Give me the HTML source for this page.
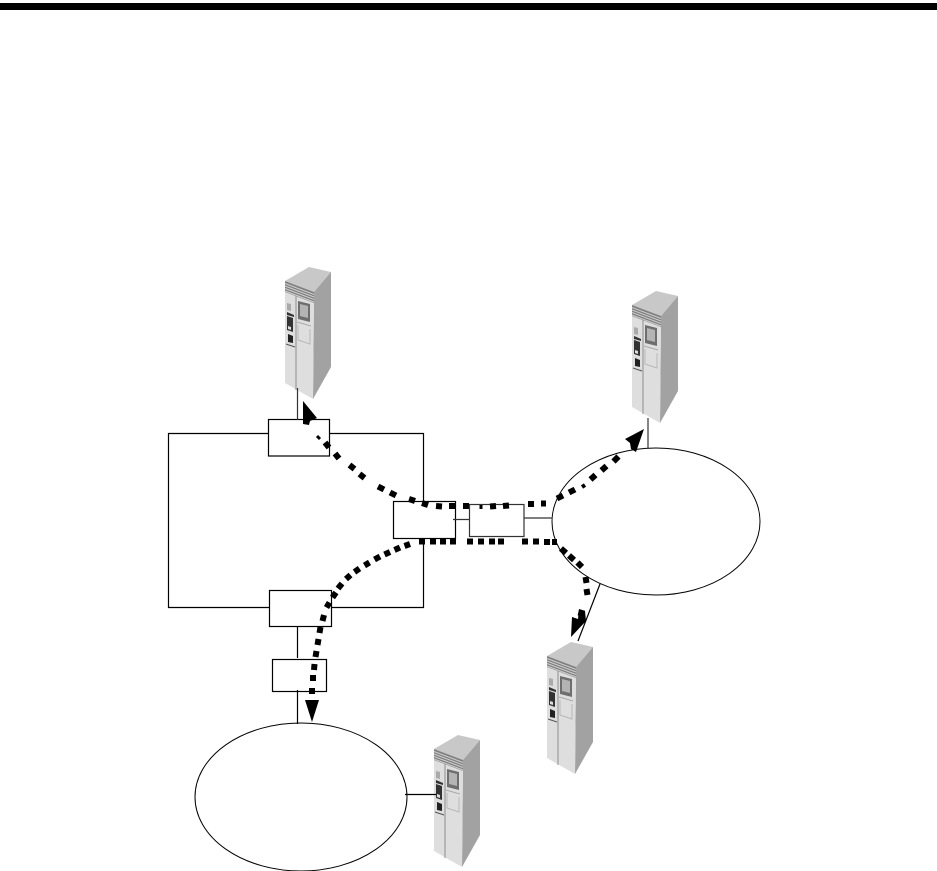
<!DOCTYPE html>
<html><head><meta charset="utf-8"><style>
html,body{margin:0;padding:0;background:#fff}
svg{display:block}
</style></head><body>
<svg width="937" height="871" viewBox="0 0 937 871" xmlns="http://www.w3.org/2000/svg">
<defs>
<g id="srv">
 <polygon points="285,281 309,267 331,272 314,292" fill="#c8c8c8"/>
 <polygon points="314,292 331,272 331,367 313,399" fill="#a2a2a2"/>
 <polygon points="285,281 314,292 313,399 285,383" fill="#dedede"/>
 <polygon points="285,281 314,292 314,303 285,292" fill="#808080"/>
 <path d="M285,283.5 L314,294.5 M285,286 L314,297 M285,288.5 L314,299.5 M285,291 L314,302" stroke="#cfcfcf" stroke-width="1"/>
 <line x1="296" y1="296" x2="296" y2="390" stroke="#8e8e8e" stroke-width="1"/>
 <polygon points="298,301 310,304 310,322 298,319" fill="#6e6e6e"/>
 <polygon points="300,304 308,306 308,318 300,316" fill="#b4b4b4"/>
 <polygon points="287,303 291,304 291,311 287,310" fill="#aaa"/>
 <polygon points="287,312 294,315 294,317 287,315" fill="#333"/>
 <polygon points="287,316 293,318 293,332 287,330" fill="#333"/>
 <polygon points="288,326 291,327 291,330 288,329" fill="#ddd"/>
 <polygon points="288,334 293,336 293,343 288,342" fill="#222"/>
 <line x1="286" y1="344" x2="295" y2="347" stroke="#555" stroke-width="1"/>
 <line x1="297" y1="322" x2="311" y2="326" stroke="#aaa" stroke-width="1"/>
 <path d="M298,325 L298,340 L310,344 L310,329" fill="none" stroke="#b8b8b8" stroke-width="1"/>
</g>
</defs>
<rect width="937" height="871" fill="#fff"/>
<rect x="0" y="3" width="937" height="7" fill="#000"/>

<use href="#srv"/>
<use href="#srv" transform="translate(347,24)"/>
<use href="#srv" transform="translate(262,375)"/>
<use href="#srv" transform="translate(149,468)"/>

<g fill="none" stroke="#000" stroke-width="1.2">
 <path d="M268.5,433.5 H168.5 V607.5 H269 M330,433.5 H423.5 V502 M423.5,539 V607.5 H332"/>
 <rect x="268.5" y="419.5" width="61" height="36.5"/>
 <rect x="393.5" y="501.5" width="62" height="37"/>
 <rect x="269.5" y="590.5" width="62" height="36"/>
 <rect x="272.5" y="659.5" width="54" height="32"/>
 <path d="M297.5,627 V658 M297.5,690 V724"/>
 <path d="M600,584 L578,641"/>
 <path d="M405,794.5 H436"/>
 <ellipse cx="656" cy="521.5" rx="104" ry="73.5" stroke-width="1"/>
 <ellipse cx="301" cy="797" rx="106" ry="74" stroke-width="1"/>
</g>
<g fill="none" stroke="#333" stroke-width="1.2">
 <path d="M297.5,388 V420"/>
 <rect x="469.5" y="504.5" width="54.5" height="32"/>
 <path d="M453,519.5 H470 M524,518 H552 M648,418 V449"/>
</g>

<g fill="none" stroke="#000" stroke-width="6">
 <path stroke-width="3" d="M317,436 L320,439"/>
 <path d="M325,442.5 L329,447.5 M335,453.5 L339,458.5 M349.5,465 L354.5,469 M359.5,474 L364.5,478 M378,486.5 L384,489.5 M390,492.5 L396,495.5 M409,499 L415,501 M422,503 L428,505 M436,506 L442,506.5 M449,506 L455,506 M463,506 L469,506"/>
 <path stroke-width="3" d="M481,505 L481,509"/>
 <path d="M490,506.5 L496,506 M503,506 L509,505.5 M528,504 L534,504 M541,503.5 L546,503.5"/>
 <path d="M557,498.5 L563,495.5 M569,492.5 L575,489.5"/>
 <path stroke-width="4" d="M582,487 L585,485"/>
 <path d="M590.5,479.5 L595.5,475 M601.5,470.5 L606.5,466 M613.5,461.5 L618.5,456.5"/>
 <path d="M419,541.5 L425,541.5 M430,541.5 L436,541.5 M440,541.5 L446,541.5 M450,541.5 L456,541.5 M467,541.5 L473,541.5 M478,541.5 L484,541.5 M489,541.5 L495,541.5 M498,541.5 L504,541.5 M522,541.5 L528,541.5 M533,541.5 L539,541.5 M544,542 L550,542 M552,542 L557,542"/>
 <path d="M561,548.5 L566,553 M569,555.5 L574,560 M577.5,562.5 L582,567 M585.5,577 L586.5,583 M586.5,589 L587.5,595 M582,610 L580.5,616"/>
 <path d="M410,544 L404.5,546 M400,547.5 L394.5,550 M390,552 L384.5,554.5 M380,556.5 L374.5,559.5 M369.5,562.5 L364.5,565.5 M359.5,568.5 L354.5,572 M350.5,575 L346,579 M342,583.5 L338,588.5 M336,592.5 L332.5,597.5 M329.5,602.5 L326.5,607.5 M324,615 L322.5,621 M320.5,627 L319.5,633 M318.5,639 L317.5,645 M316.5,651 L315.5,657 M314.5,664 L314,670 M313,675 L313,681 M312,688 L312,694"/>
</g>
<g fill="#000">
 <polygon points="303,401 317,418 310,421 309,425 303,424"/>
 <polygon points="644,429 625,439 630,443 631,449 636,452"/>
 <polygon points="571,637 572,617 578,619 579,609 585,611 586,621"/>
 <polygon points="312,722 305,700 319,700"/>
</g>
</svg>
</body></html>
